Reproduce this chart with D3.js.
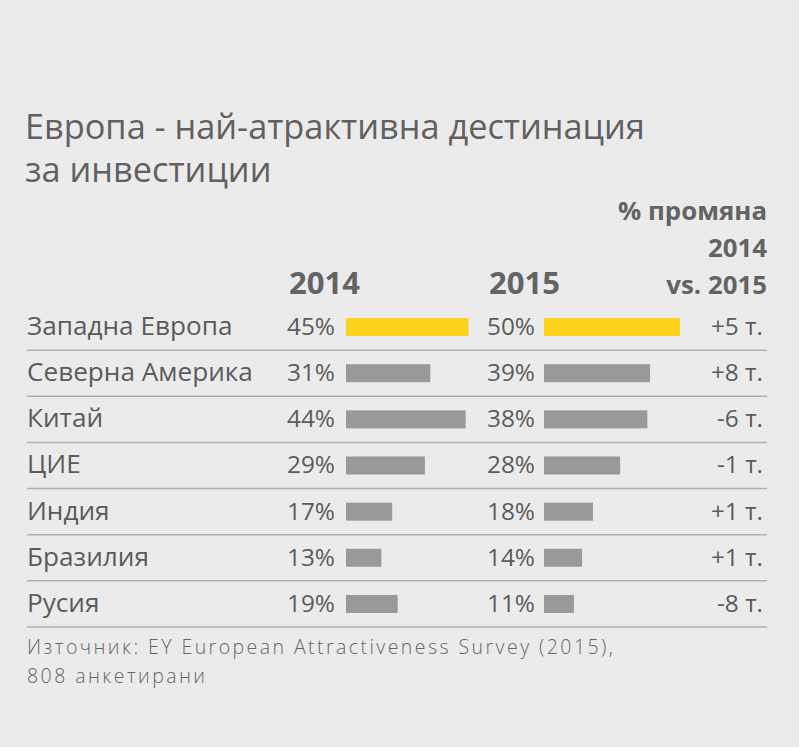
<!DOCTYPE html>
<html><head><meta charset="utf-8">
<script src="https://cdn.jsdelivr.net/npm/d3@7"></script>
<style>
html,body{margin:0;padding:0;background:#ebebeb;}
svg{display:block;}
text{font-family:"Open Sans",Roboto,sans-serif;}
</style></head>
<body>
<script>
const categories = ["Западна Европа","Северна Америка","Китай","ЦИЕ","Индия","Бразилия","Русия"];
const values2014 = [45,31,44,29,17,13,19];
const values2015 = [50,39,38,28,18,14,11];
const changes = ["+5 т.","+8 т.","-6 т.","-1 т.","+1 т.","+1 т.","-8 т."];
const highlight = ["Западна Европа"];
const titleLines = ["Европа - най-атрактивна дестинация","за инвестиции"];
const headerChange = ["% промяна","2014","vs. 2015"];
const years = ["2014","2015"];
const sourceLines = ["Източник: EY European Attractiveness Survey (2015),","808 анкетирани"];

const W = 799, H = 747;
const svg = d3.select("body").append("svg").attr("width",W).attr("height",H);
svg.append("rect").attr("width",W).attr("height",H).attr("fill","#ebebeb");

// size a font so that a sample string spans a target width
function measure(sample, weight, size){
  const t = svg.append("text").attr("font-size",size).attr("font-weight",weight).text(sample);
  const w = t.node().getComputedTextLength();
  t.remove();
  return w;
}
function fit(sample, weight, target){ return 100*target/measure(sample, weight, 100); }
const fsTitle = fit(titleLines[0], 400, 620);
const fsLabel = fit("Северна Америка", 400, 226);
const fsVal = fit("45%", 400, 48);
const fsHead = fit("% промяна", 700, 149);
const fsYear = fit("2014", 700, 71);
const fsSrc = 19.5;
const srcSpacing = (586 - measure(sourceLines[0], 300, fsSrc)) / (sourceLines[0].length - 1);

const textCol = "#5b5b5b";

// title
svg.selectAll(".title").data(titleLines).join("text")
  .attr("x",25).attr("y",(d,i)=>139+i*43)
  .attr("font-size",fsTitle).attr("fill","#606060").text(d=>d);

// header
svg.selectAll(".hc").data(headerChange).join("text")
  .attr("x",767).attr("y",(d,i)=>220+i*37)
  .attr("text-anchor","end").attr("font-size",fsHead).attr("font-weight","bold")
  .attr("fill","#636363").text(d=>d);

const yearX = [289,489];
svg.selectAll(".yr").data(years).join("text")
  .attr("x",(d,i)=>yearX[i]).attr("y",294)
  .attr("font-size",fsYear).attr("font-weight","bold").attr("fill","#636363").text(d=>d);

// rows
const y = d3.scaleBand().domain(categories).range([304,627]).paddingInner(0).paddingOuter(0);
const x = d3.scaleLinear().domain([0,50]).range([0,136]);

const rows = svg.selectAll(".row").data(categories).join("g")
  .attr("transform",d=>`translate(0,${y(d)})`);
const bh = y.bandwidth();

rows.append("line").attr("x1",27).attr("x2",767).attr("y1",bh).attr("y2",bh)
  .attr("stroke","#b0b0b0").attr("stroke-width",1.5);

rows.append("text").attr("x",27).attr("y",bh/2+8).attr("font-size",fsLabel)
  .attr("fill",textCol).text(d=>d);

const cols = [{vals:values2014, tx:335, bx:346},{vals:values2015, tx:535, bx:544}];
cols.forEach(c=>{
  rows.append("text").attr("x",c.tx).attr("y",bh/2+8).attr("text-anchor","end")
    .attr("font-size",fsVal).attr("fill",textCol).text((d,i)=>c.vals[i]+"%");
  rows.append("rect").attr("x",c.bx).attr("y",bh/2-9).attr("height",18)
    .attr("width",(d,i)=>x(c.vals[i]))
    .attr("fill",d=>highlight.includes(d)?"#fbd21c":"#999999");
});

rows.append("text").attr("x",763).attr("y",bh/2+8).attr("text-anchor","end")
  .attr("font-size",fsVal).attr("fill",textCol).text((d,i)=>changes[i]);

// source
svg.selectAll(".src").data(sourceLines).join("text")
  .attr("x",27).attr("y",(d,i)=>654+i*29)
  .attr("font-size",fsSrc).attr("font-weight",300).attr("letter-spacing",srcSpacing)
  .attr("fill","#666").text(d=>d);
</script>
</body></html>
